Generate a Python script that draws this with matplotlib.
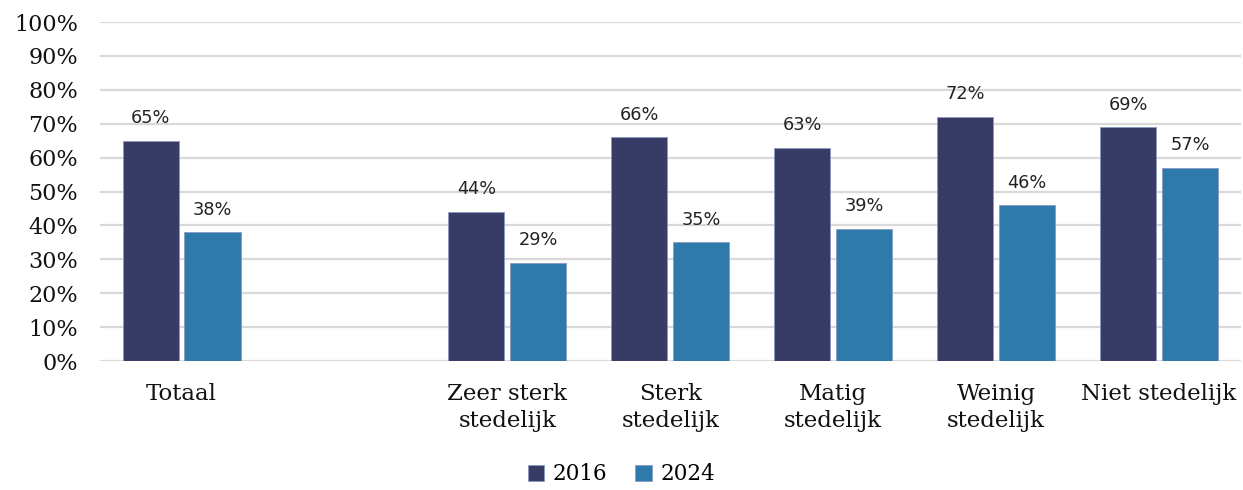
import numpy as np
import matplotlib.pyplot as plt

# data
categories = ["Totaal", "", "Zeer sterk\nstedelijk", "Sterk\nstedelijk",
              "Matig\nstedelijk", "Weinig\nstedelijk", "Niet stedelijk"]
val_2016 = [65, None, 44, 66, 63, 72, 69]
val_2024 = [38, None, 29, 35, 39, 46, 57]
series_names = ["2016", "2024"]

COL_2016 = "#383b66"
COL_2024 = "#2e7aab"
SERIF = "DejaVu Serif"
SANS = "DejaVu Sans"

fig = plt.figure(figsize=(12.43, 4.9), dpi=100)
ax = fig.add_axes([0.0805, 0.263, 0.9175, 0.692])

x = np.arange(len(categories))
w = 0.344
off = 0.19

for vals, col, sign, name in [(val_2016, COL_2016, -1, series_names[0]),
                              (val_2024, COL_2024, 1, series_names[1])]:
    xs = [xi + sign * off for xi, v in zip(x, vals) if v is not None]
    ys = [v for v in vals if v is not None]
    bars = ax.bar(xs, ys, width=w, color=col, edgecolor="#8a9ac0", linewidth=0.6,
                  label=name, zorder=3)
    for b, v in zip(bars, ys):
        ax.text(b.get_x() + b.get_width() / 2, v + 4, "%d%%" % v,
                ha="center", va="bottom", fontsize=12.8, family=SANS, color="#222222")

ax.set_xlim(-0.5, len(categories) - 0.5)
ax.set_ylim(0, 100)
ax.set_yticks(range(0, 101, 10))
ax.set_yticklabels(["%d%%" % t for t in range(0, 101, 10)], family=SERIF, fontsize=16)
ax.set_xticks(x)
ax.set_xticklabels(categories, family=SERIF, fontsize=16.5, linespacing=1.3, va="top")
ax.tick_params(axis="both", length=0, colors="#111111")
ax.tick_params(axis="y", pad=16)
ax.tick_params(axis="x", pad=16)

ax.grid(axis="y", color="#d9d9d9", linewidth=1.6, zorder=0)
for s in ax.spines.values():
    s.set_visible(False)

leg = fig.legend(loc="lower center", bbox_to_anchor=(0.5, -0.03), ncol=2, frameon=False,
                 prop={"family": SERIF, "size": 15.5}, handlelength=0.75, handleheight=0.75,
                 handletextpad=0.4, columnspacing=1.3)

fig.savefig("out.png", dpi=100)
